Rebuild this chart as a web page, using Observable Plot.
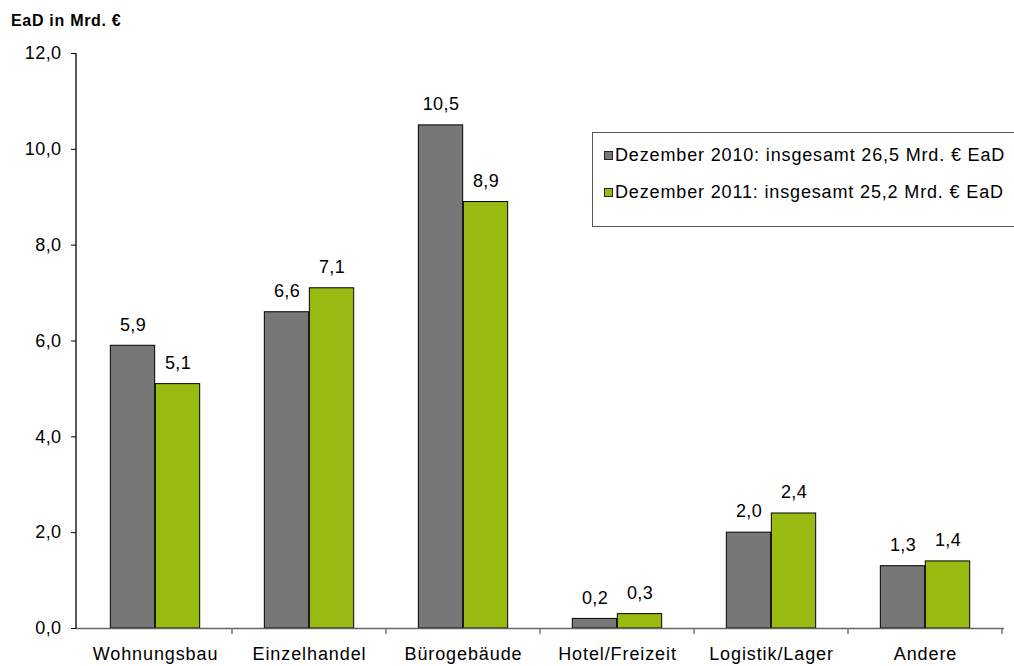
<!DOCTYPE html>
<html>
<head>
<meta charset="utf-8">
<script src="https://cdn.jsdelivr.net/npm/d3@7"></script>
<script src="https://cdn.jsdelivr.net/npm/@observablehq/plot@0.6"></script>
<style>
  html, body { margin: 0; padding: 0; background: #fff; }
  #wrap { position: relative; width: 1014px; height: 666px; font-family: Arial, "Liberation Sans", sans-serif; }
  #title { position: absolute; left: 11px; top: 12px; font-size: 16px; font-weight: bold; letter-spacing: 0.7px; color: #000; }
  #legend { position: absolute; left: 592px; top: 132px; width: 440px; height: 95px; border: 1px solid #555; box-sizing: border-box; background: #fff; }
  .li { position: absolute; left: 11px; font-size: 18px; letter-spacing: 0.85px; color: #000; white-space: nowrap; line-height: 20px; }
  .sw { display: inline-block; width: 7px; height: 7px; border: 1px solid #222; margin-right: 2px; vertical-align: 1px; }
</style>
</head>
<body>
<div id="wrap">
  <div id="title">EaD in Mrd. €</div>
  <div id="chart"></div>
  <div id="legend"></div>
</div>
<script>
const categories = ["Wohnungsbau", "Einzelhandel", "Bürogebäude", "Hotel/Freizeit", "Logistik/Lager", "Andere"];
const seriesNames = ["Dezember 2010: insgesamt 26,5 Mrd. € EaD", "Dezember 2011: insgesamt 25,2 Mrd. € EaD"];
const values2010 = [5.9, 6.6, 10.5, 0.2, 2.0, 1.3];
const values2011 = [5.1, 7.1, 8.9, 0.3, 2.4, 1.4];
const yTicks = [0, 2, 4, 6, 8, 10, 12];
const colors = ["#777777", "#99bb11"];

const data = [];
categories.forEach((c, i) => {
  data.push({category: c, series: seriesNames[0], value: values2010[i]});
  data.push({category: c, series: seriesNames[1], value: values2011[i]});
});

const W = 1014, H = 666;
const mL = 76, mR = 10, mT = 53, mB = 38;
const step = (W - mL - mR) / categories.length;
const barW = 45;
const gap = (step - 2 * barW) / 2;
const fmt = d => d3.format(".1f")(d).replace(".", ",");

const d2010 = data.filter(d => d.series === seriesNames[0]);
const d2011 = data.filter(d => d.series === seriesNames[1]);

const plot = Plot.plot({
  width: W, height: H,
  marginLeft: mL, marginRight: mR, marginTop: mT, marginBottom: mB,
  style: {fontFamily: 'Arial, "Liberation Sans", sans-serif', fontSize: "18px", color: "#000", background: "#fff"},
  x: {type: "band", domain: categories, padding: 0, label: null},
  y: {domain: [0, 12], label: null},
  color: {domain: seriesNames, range: colors},
  marks: [
    Plot.barY(d2010, {x: "category", y: "value", fill: "series", stroke: "#000", strokeWidth: 1,
      insetLeft: gap, insetRight: step - gap - barW}),
    Plot.barY(d2011, {x: "category", y: "value", fill: "series", stroke: "#000", strokeWidth: 1,
      insetLeft: gap + barW, insetRight: gap}),
    Plot.text(d2010, {x: "category", y: "value", text: d => fmt(d.value), dx: -barW / 2, dy: -21, fill: "#000", fontSize: 18, className: "vlab"}),
    Plot.text(d2011, {x: "category", y: "value", text: d => fmt(d.value), dx: barW / 2, dy: -21, fill: "#000", fontSize: 18, className: "vlab"}),
    Plot.ruleY([0], {stroke: "#666", strokeWidth: 1.3}),
    Plot.axisY({ticks: yTicks, tickFormat: fmt, tickSize: 5, tickPadding: 10, stroke: "#000", strokeOpacity: 1, fontSize: 18, className: "ylab"}),
    Plot.axisX({tickSize: 0, tickPadding: 19, fontSize: 18})
  ]
});

const svg = d3.select(plot);
svg.selectAll("text").attr("letter-spacing", "0.9px");
svg.selectAll(".vlab text, text.vlab, .ylab text").attr("letter-spacing", "0.4px");

// category boundary ticks and y-axis line from the scales
const xs = plot.scale("x");
const ys = plot.scale("y");
const y0 = ys.apply(0);
const bounds = categories.slice(1).map(c => xs.apply(c)).concat([xs.apply(categories[categories.length - 1]) + xs.bandwidth]);
svg.append("g").selectAll("line").data(bounds).join("line")
  .attr("x1", d => d).attr("x2", d => d).attr("y1", y0).attr("y2", y0 + 6)
  .attr("stroke", "#666").attr("stroke-width", 1.3);
svg.append("line").attr("x1", mL).attr("x2", mL).attr("y1", ys.apply(12)).attr("y2", y0)
  .attr("stroke", "#000").attr("stroke-width", 1.3);

document.getElementById("chart").appendChild(plot);

const legend = d3.select("#legend");
seriesNames.forEach((s, i) => {
  const row = legend.append("div").attr("class", "li").style("top", (i === 0 ? 12 : 49) + "px");
  row.append("span").attr("class", "sw").style("background", colors[i]);
  row.append("span").text(s);
});
</script>
</body>
</html>
